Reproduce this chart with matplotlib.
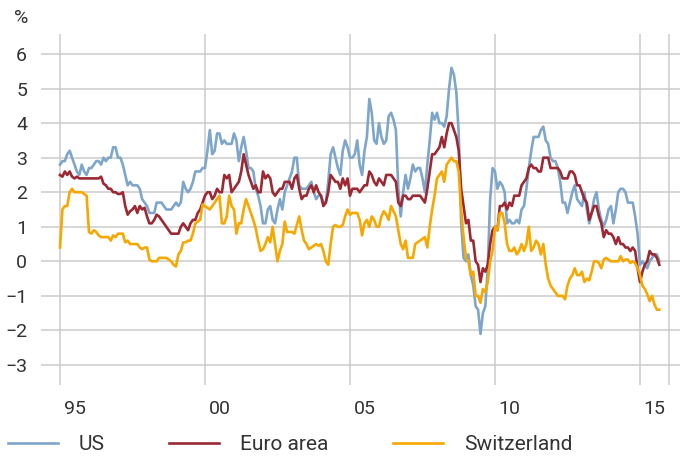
import numpy as np
import matplotlib
matplotlib.use("Agg")
import matplotlib.pyplot as plt

# Colours
US_BLUE = '#7EA6CA'
EURO_RED = '#9B2833'
CH_ORANGE = '#F6A800'
GRID_GREY = '#CCCCCC'
TEXT_GREY = '#333333'

# Monthly inflation (%), Jan 1995 - Sep 2015, one row per year
us = [
    2.8, 2.9, 2.9, 3.1, 3.2, 3.0, 2.8, 2.6, 2.5, 2.8, 2.6, 2.5,
    2.7, 2.7, 2.8, 2.9, 2.9, 2.8, 3.0, 2.9, 3.0, 3.0, 3.3, 3.3,
    3.0, 3.0, 2.8, 2.5, 2.2, 2.3, 2.2, 2.2, 2.2, 2.1, 1.8, 1.7,
    1.6, 1.4, 1.4, 1.4, 1.7, 1.7, 1.7, 1.6, 1.5, 1.5, 1.5, 1.6,
    1.7, 1.6, 1.7, 2.3, 2.1, 2.0, 2.1, 2.3, 2.6, 2.6, 2.6, 2.7,
    2.7, 3.2, 3.8, 3.1, 3.2, 3.7, 3.7, 3.4, 3.5, 3.4, 3.4, 3.4,
    3.7, 3.5, 2.9, 3.3, 3.6, 3.2, 2.7, 2.7, 2.6, 2.1, 1.9, 1.6,
    1.1, 1.1, 1.5, 1.6, 1.2, 1.1, 1.5, 1.8, 1.5, 2.0, 2.2, 2.4,
    2.6, 3.0, 3.0, 2.2, 2.1, 2.1, 2.1, 2.2, 2.3, 2.0, 1.8, 1.9,
    1.9, 1.7, 1.7, 2.3, 3.1, 3.3, 3.0, 2.7, 2.5, 3.2, 3.5, 3.3,
    3.0, 3.0, 3.1, 3.5, 2.8, 2.5, 3.2, 3.6, 4.7, 4.3, 3.5, 3.4,
    4.0, 3.6, 3.4, 3.5, 4.2, 4.3, 4.1, 3.8, 2.1, 1.3, 2.0, 2.5,
    2.1, 2.4, 2.8, 2.6, 2.7, 2.7, 2.4, 2.0, 2.8, 3.5, 4.3, 4.1,
    4.3, 4.0, 4.0, 3.9, 4.2, 5.0, 5.6, 5.4, 4.9, 3.7, 1.1, 0.1,
    0.0, 0.2, -0.4, -0.7, -1.3, -1.4, -2.1, -1.5, -1.3, -0.2, 1.8, 2.7,
    2.6, 2.1, 2.3, 2.2, 2.0, 1.1, 1.2, 1.1, 1.1, 1.2, 1.1, 1.5,
    1.6, 2.1, 2.7, 3.2, 3.6, 3.6, 3.6, 3.8, 3.9, 3.5, 3.4, 3.0,
    2.9, 2.9, 2.7, 2.3, 1.7, 1.7, 1.4, 1.7, 2.0, 2.2, 1.8, 1.7,
    1.6, 2.0, 1.5, 1.1, 1.4, 1.8, 2.0, 1.5, 1.2, 1.0, 1.2, 1.5,
    1.6, 1.1, 1.5, 2.0, 2.1, 2.1, 2.0, 1.7, 1.7, 1.7, 1.3, 0.8,
    -0.1, 0.0, -0.1, -0.2, 0.0, 0.1, 0.2, 0.2, 0.0,
]

euro_area = [
    2.5, 2.45, 2.6, 2.5, 2.6, 2.45, 2.4, 2.45, 2.4, 2.4, 2.4, 2.4,
    2.4, 2.4, 2.4, 2.4, 2.4, 2.45, 2.25, 2.2, 2.1, 2.1, 2.0, 2.0,
    1.95, 1.95, 2.0, 1.6, 1.35, 1.45, 1.5, 1.6, 1.4, 1.6, 1.5, 1.55,
    1.3, 1.1, 1.1, 1.2, 1.35, 1.3, 1.2, 1.1, 1.0, 0.9, 0.8, 0.8,
    0.8, 0.8, 1.0, 1.1, 1.0, 0.9, 1.1, 1.2, 1.2, 1.4, 1.5, 1.7,
    1.9, 2.0, 2.0, 1.8, 1.9, 2.1, 2.0, 2.0, 2.5, 2.4, 2.5, 2.0,
    2.1, 2.2, 2.3, 2.6, 3.1, 2.8, 2.5, 2.3, 2.1, 2.2, 2.0, 2.0,
    2.6, 2.4, 2.5, 2.4, 2.0, 1.9, 2.0, 2.1, 2.1, 2.3, 2.3, 2.3,
    2.1, 2.4, 2.5, 2.1, 1.8, 1.9, 1.9, 2.1, 2.2, 2.0, 2.2, 2.0,
    1.9, 1.6, 1.7, 2.0, 2.5, 2.4, 2.3, 2.3, 2.1, 2.4, 2.2, 2.4,
    1.9, 2.1, 2.1, 2.1, 2.0, 2.1, 2.2, 2.2, 2.6, 2.5, 2.3, 2.2,
    2.4, 2.3, 2.2, 2.5, 2.5, 2.5, 2.4, 2.3, 1.7, 1.6, 1.9, 1.9,
    1.8, 1.8, 1.9, 1.9, 1.9, 1.9, 1.8, 1.7, 2.1, 2.6, 3.1, 3.1,
    3.2, 3.3, 3.6, 3.3, 3.7, 4.0, 4.0, 3.8, 3.6, 3.2, 2.1, 1.6,
    1.1, 1.2, 0.6, 0.6, 0.0, -0.1, -0.6, -0.2, -0.3, -0.1, 0.5, 0.9,
    1.0, 0.9, 1.6, 1.6, 1.7, 1.5, 1.7, 1.6, 1.9, 1.9, 1.9, 2.2,
    2.3, 2.4, 2.7, 2.8, 2.7, 2.7, 2.6, 2.6, 3.0, 3.0, 3.0, 2.7,
    2.7, 2.7, 2.7, 2.6, 2.4, 2.4, 2.4, 2.6, 2.6, 2.5, 2.2, 2.2,
    2.0, 1.8, 1.7, 1.2, 1.4, 1.6, 1.6, 1.3, 1.1, 0.7, 0.9, 0.8,
    0.8, 0.7, 0.5, 0.7, 0.5, 0.5, 0.4, 0.4, 0.3, 0.4, 0.3, -0.2,
    -0.6, -0.3, -0.1, 0.0, 0.3, 0.2, 0.2, 0.1, -0.1,
]

switzerland = [
    0.4, 1.5, 1.6, 1.6, 2.0, 2.1, 2.0, 2.0, 2.0, 2.0, 1.95, 1.9,
    0.85, 0.8, 0.9, 0.85, 0.75, 0.7, 0.7, 0.7, 0.7, 0.6, 0.75, 0.7,
    0.8, 0.8, 0.8, 0.55, 0.6, 0.5, 0.5, 0.5, 0.5, 0.4, 0.35, 0.4,
    0.4, 0.05, 0.0, 0.0, 0.0, 0.1, 0.1, 0.1, 0.1, 0.05, 0.0, -0.1,
    -0.15, 0.2, 0.3, 0.55, 0.55, 0.6, 0.6, 0.8, 1.1, 1.15, 1.2, 1.65,
    1.6, 1.55, 1.5, 1.6, 1.7, 1.8, 1.9, 1.1, 1.1, 1.3, 1.9, 1.6,
    1.5, 0.8, 1.1, 1.1, 1.5, 1.8, 1.6, 1.4, 1.2, 0.95, 0.6, 0.3,
    0.35, 0.5, 0.7, 0.55, 1.0, 0.5, 0.0, 0.3, 0.5, 1.15, 0.85, 0.85,
    0.85, 0.8, 1.05, 1.3, 0.9, 0.6, 0.5, 0.35, 0.4, 0.45, 0.5, 0.45,
    0.5, 0.3, 0.0, -0.1, 0.5, 1.0, 1.05, 1.0, 1.0, 1.05, 1.3, 1.5,
    1.35, 1.4, 1.4, 1.4, 1.2, 0.75, 1.1, 1.2, 1.0, 1.3, 1.2, 1.0,
    1.0, 1.3, 1.45, 1.35, 1.2, 1.6, 1.45, 1.3, 0.9, 0.5, 0.35, 0.6,
    0.1, 0.1, 0.1, 0.5, 0.55, 0.6, 0.65, 0.7, 0.4, 1.0, 1.5, 1.9,
    2.4, 2.5, 2.6, 2.3, 2.8, 2.9, 3.0, 2.9, 2.9, 2.6, 1.5, 0.7,
    0.1, 0.0, -0.4, -0.3, -1.0, -1.0, -1.2, -0.8, -0.9, -0.6, 0.0, 0.3,
    1.0, 0.9, 1.4, 1.4, 1.1, 0.5, 0.3, 0.3, 0.4, 0.2, 0.3, 0.5,
    0.3, 0.5, 1.0, 0.3, 0.4, 0.6, 0.5, 0.2, 0.5, -0.1, -0.5, -0.7,
    -0.8, -0.9, -1.0, -1.0, -1.0, -1.1, -0.7, -0.5, -0.4, -0.2, -0.4, -0.4,
    -0.3, -0.6, -0.5, -0.55, -0.3, 0.0, 0.0, -0.05, -0.2, 0.05, 0.1, 0.05,
    0.0, 0.0, 0.0, 0.0, 0.15, 0.0, 0.05, 0.05, -0.05, 0.0, -0.05, -0.2,
    -0.4, -0.7, -0.8, -0.95, -1.15, -1.0, -1.25, -1.4, -1.4,
]

series_names = ['US', 'Euro area', 'Switzerland']
year_lines = [1995, 2000, 2005, 2010, 2015, 2016]
label_years = [1995, 2000, 2005, 2010, 2015]
year_labels = ['95', '00', '05', '10', '15']
y_ticks = [-3, -2, -1, 0, 1, 2, 3, 4, 5, 6]

plt.rcParams['font.family'] = ['Roboto', 'DejaVu Sans']

fig = plt.figure(figsize=(6.81, 4.62), dpi=100)
ax = fig.add_axes([41 / 681, 1 - 385 / 462, 639 / 681, 351 / 462])

months = 1995 + np.arange(len(us)) / 12.0

for yv in y_ticks:
    ax.axhline(yv, color=GRID_GREY, lw=1.1, zorder=1)
for xv in year_lines:
    ax.axvline(xv, color=GRID_GREY, lw=1.1, zorder=1)

lines = []
for vals, col, name in zip([us, euro_area, switzerland],
                           [US_BLUE, EURO_RED, CH_ORANGE], series_names):
    ln, = ax.plot(months[:len(vals)], vals, color=col, lw=1.9,
                  label=name, zorder=3, solid_joinstyle='round')
    lines.append(ln)

ax.set_xlim(1994.345, 2016.38)
ax.set_ylim(-3.58, 6.58)

# year labels sit in the middle of each year
ax.set_xticks([y + 0.5 for y in label_years])
ax.set_xticklabels(year_labels)
ax.set_yticks(y_ticks)
ax.set_yticklabels([str(v).replace('-', '\u2212') for v in y_ticks])
ax.tick_params(axis='both', length=0, labelsize=14, colors=TEXT_GREY)
ax.tick_params(axis='x', pad=11)
ax.tick_params(axis='y', pad=10)
for s in ax.spines.values():
    s.set_visible(False)

fig.text(14 / 681, 1 - 18 / 462, '%', fontsize=14, color=TEXT_GREY,
         ha='left', va='center')

fig.legend(handles=lines, loc='center left', ncol=3, frameon=False,
           bbox_to_anchor=(8 / 681, 1 - 445 / 462), borderpad=0,
           borderaxespad=0, handlelength=2.4, handletextpad=1.0,
           columnspacing=3.1, fontsize=15, labelcolor=TEXT_GREY)

fig.savefig('out.png', dpi=100)
